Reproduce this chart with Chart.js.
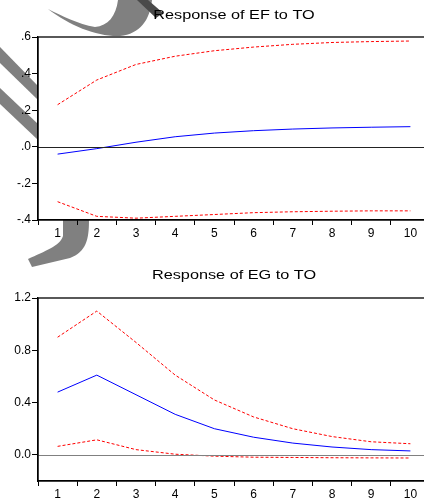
<!DOCTYPE html>
<html>
<head>
<meta charset="utf-8">
<script src="https://cdn.jsdelivr.net/npm/chart.js@4/dist/chart.umd.min.js"></script>
<style>
  html, body { margin: 0; padding: 0; width: 424px; height: 498px; overflow: hidden; background: #fff; }
  #mark { position: absolute; left: 0; top: 0; z-index: 0; }
  .box { position: absolute; left: 0; width: 432px; z-index: 1; }
  #boxEF { top: 0; height: 245px; }
  #boxEG { top: 250px; height: 248px; }
</style>
</head>
<body>
<!-- grey smudge that sits behind the top-left of the figure -->
<svg id="mark" width="424" height="498">
  <g fill="#808080">
    <path d="M48,9 C62,16 78,24 95,27 C108,26 116,16 118,0 L152,0 C150,20 140,34 120,36 C98,37 70,26 48,9 Z"/>
    <path d="M137,0 L148,0 L163,13 L156,18 Z" fill="#4a4a4a"/>
    <path d="M0,47 L38,86 L38,100 L0,63 Z"/>
    <path d="M0,88 L38,124 L38,140 L0,104 Z"/>
    <path d="M63,220 L89,220 C89,240 86,252 70,258 L32,267 L28,259 C45,251 60,246 63,236 Z"/>
  </g>
</svg>
<div class="box" id="boxEF"><canvas id="chartEF"></canvas></div>
<div class="box" id="boxEG"><canvas id="chartEG"></canvas></div>
<script>
const periods = ["1", "2", "3", "4", "5", "6", "7", "8", "9", "10"];

// Response of EF to TO
const efResp  = [-0.04, -0.01, 0.025, 0.055, 0.075, 0.088, 0.097, 0.103, 0.107, 0.11];
const efUpper = [0.23, 0.365, 0.45, 0.495, 0.525, 0.545, 0.56, 0.57, 0.575, 0.578];
const efLower = [-0.30, -0.38, -0.39, -0.38, -0.37, -0.36, -0.355, -0.352, -0.35, -0.35];
const efTicks = [-0.4, -0.2, 0.0, 0.2, 0.4, 0.6];

// Response of EG to TO
const egResp  = [0.48, 0.61, 0.46, 0.31, 0.20, 0.135, 0.09, 0.06, 0.04, 0.03];
const egUpper = [0.90, 1.10, 0.86, 0.61, 0.42, 0.29, 0.20, 0.14, 0.10, 0.085];
const egLower = [0.065, 0.115, 0.04, 0.005, -0.01, -0.018, -0.02, -0.022, -0.023, -0.024];
const egTicks = [0.0, 0.4, 0.8, 1.2];

Chart.defaults.font.family = "'Liberation Sans', Arial, sans-serif";
Chart.defaults.color = "#000";

// white plot area, frame, zero line and the (wide) title
const framePlugin = {
  id: "frame",
  beforeDraw(chart) {
    const { ctx, chartArea: a } = chart;
    ctx.save();
    ctx.fillStyle = "#fff";
    ctx.fillRect(a.left, a.top, a.right - a.left, a.bottom - a.top);
    ctx.restore();
  },
  afterDatasetsDraw(chart, args, opts) {
    const { ctx, chartArea: a } = chart;
    const y0 = chart.scales.y.getPixelForValue(0);
    ctx.save();
    ctx.lineWidth = 1;
    ctx.strokeStyle = opts.zeroColor;
    ctx.beginPath();
    ctx.moveTo(a.left, Math.round(y0) + 0.5);
    ctx.lineTo(a.right, Math.round(y0) + 0.5);
    ctx.stroke();
    ctx.strokeStyle = "#000";
    ctx.lineWidth = 1.3;
    ctx.strokeRect(a.left, a.top, a.right - a.left, a.bottom - a.top);
    ctx.restore();
  },
  afterDraw(chart, args, opts) {
    const { ctx, chartArea: a } = chart;
    ctx.save();
    ctx.translate((a.left + a.right) / 2, opts.titleY);
    ctx.scale(1.25, 1);
    ctx.font = "13px 'Liberation Sans', Arial, sans-serif";
    ctx.fillStyle = "#000";
    ctx.textAlign = "center";
    ctx.textBaseline = "middle";
    ctx.fillText(opts.title, 0, 0);
    ctx.restore();
  }
};

function makeChart(id, title, resp, upper, lower, ticks, yMin, yMax, fmt, top, titleY, xHeight, zeroColor) {
  const band = (data) => ({
    data, borderColor: "#ff0000", borderWidth: 1, borderDash: [3, 2],
    pointRadius: 0, tension: 0, fill: false
  });
  return new Chart(document.getElementById(id), {
    type: "line",
    data: {
      labels: periods,
      datasets: [
        band(upper),
        band(lower),
        { data: resp, borderColor: "#0000ff", borderWidth: 1, pointRadius: 0, tension: 0, fill: false }
      ]
    },
    options: {
      responsive: true,
      maintainAspectRatio: false,
      animation: false,
      layout: { padding: { left: 0, right: 2, top: top, bottom: 0 } },
      plugins: {
        legend: { display: false },
        tooltip: { enabled: false },
        title: { display: false },
        frame: { zeroColor, title, titleY }
      },
      scales: {
        x: {
          offset: true,
          grid: { offset: true, drawOnChartArea: false, drawTicks: true, tickLength: 5, color: "#000" },
          border: { color: "#000", width: 1.3 },
          ticks: { font: { size: 12 }, padding: 1, maxRotation: 0 },
          afterFit: (s) => { s.height = xHeight; }
        },
        y: {
          min: yMin, max: yMax,
          afterBuildTicks: (s) => { s.ticks = ticks.map(v => ({ value: v })); },
          grid: { drawOnChartArea: false, drawTicks: true, tickLength: 6, color: "#000" },
          border: { color: "#000", width: 1.3 },
          ticks: { font: { size: 12 }, padding: 1, callback: fmt },
          afterFit: (s) => { s.width = 38; }
        }
      }
    },
    plugins: [framePlugin]
  });
}

makeChart("chartEF", "Response of EF to TO", efResp, efUpper, efLower, efTicks, -0.4, 0.6,
  (v) => v.toFixed(1).replace("0.", "."), 37, 15, 25, "#222");

makeChart("chartEG", "Response of EG to TO", egResp, egUpper, egLower, egTicks, -0.2, 1.2,
  (v) => v.toFixed(1), 48, 25, 17, "#808080");
</script>
</body>
</html>
